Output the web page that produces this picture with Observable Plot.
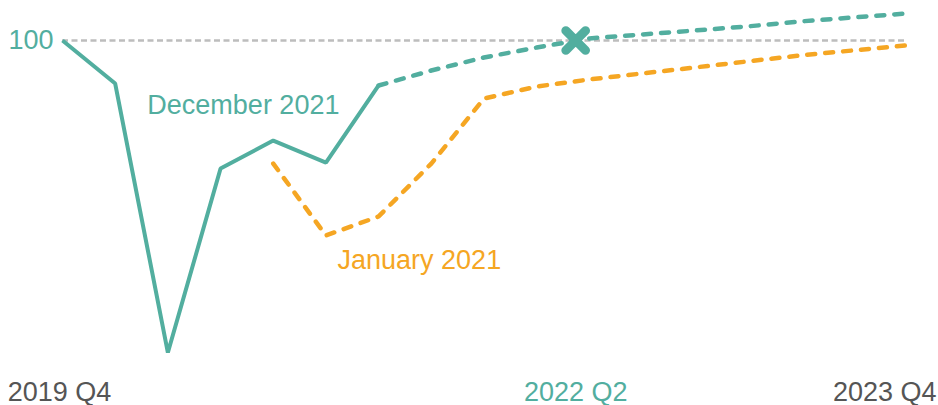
<!DOCTYPE html>
<html><head><meta charset="utf-8">
<script src="https://cdn.jsdelivr.net/npm/d3@7"></script>
<script src="https://cdn.jsdelivr.net/npm/@observablehq/plot@0.6"></script>
<style>body{margin:0;background:#fff}</style>
</head><body><div id="chart"></div>
<script>
// Quarters on the x axis (index 0 = 2019 Q4 ... 16 = 2023 Q4)
const quarters = ["2019 Q4","2020 Q1","2020 Q2","2020 Q3","2020 Q4","2021 Q1","2021 Q2","2021 Q3","2021 Q4",
                  "2022 Q1","2022 Q2","2022 Q3","2022 Q4","2023 Q1","2023 Q2","2023 Q3","2023 Q4"];
// December 2021: outturn (solid) from 2019 Q4, projection (dashed) from 2021 Q2
const decOutturn  = [100, 97.06, 78.70, 91.26, 93.17, 91.67, 96.93];
const decStart = 6;
const decForecast = [96.93, 97.95, 98.84, 99.52, 100.14, 100.41, 100.68, 100.96, 101.30, 101.57, 101.84];
// January 2021 projection (dashed) from 2020 Q4
const janStart = 4;
const janForecast = [91.60, 86.69, 87.99, 91.60, 96.04, 96.86, 97.34, 97.75, 98.16, 98.57, 98.98, 99.32, 99.66];
// Pre-pandemic level and the point where December 2021 regains it
const refLevel = 100;
const recovery = [{q: 9.74, v: 100, label: "2022 Q2"}];
// Series labels
const seriesLabels = [
  {name: "December 2021", q: 1.61, v: 95.60, color: "#52AE9F"},
  {name: "January 2021",  q: 5.22, v: 84.96, color: "#F5A623"}
];
const edgeTicks = [0, 16];

const green = "#52AE9F", orange = "#F5A623", grey = "#555555";
const toPts = (arr, start) => arr.map((v, i) => ({q: start + i, v}));
const decSolid = toPts(decOutturn, 0);
const decDash = toPts(decForecast, decStart);
const janDash = toPts(janForecast, janStart);
const font = "'Liberation Sans', Arial, Helvetica, sans-serif";

const chart = Plot.plot({
  width: 938, height: 405,
  marginLeft: 0, marginRight: 0, marginTop: 0, marginBottom: 0,
  style: {fontFamily: font, background: "#fff", overflow: "visible"},
  x: {domain: [0, 16], range: [62, 905], axis: null},
  y: {domain: [78, 102], range: [362.3, 10.7], axis: null},
  marks: [
    Plot.ruleY([refLevel], {x1: 0, x2: 16, stroke: "#bdbdbd", strokeWidth: 2.5, strokeDasharray: "6,3.5"}),
    Plot.line(janDash, {x: "q", y: "v", stroke: orange, strokeWidth: 4.5, strokeDasharray: "8,10", strokeLinecap: "round", strokeLinejoin: "round"}),
    Plot.line(decDash, {x: "q", y: "v", stroke: green, strokeWidth: 4.5, strokeDasharray: "8,10", strokeLinecap: "round", strokeLinejoin: "round"}),
    Plot.line(decSolid, {x: "q", y: "v", stroke: green, strokeWidth: 4, strokeLinejoin: "miter", strokeLinecap: "butt"}),
    Plot.dot(recovery, {x: "q", y: "v", symbol: "times", r: 9, stroke: green, strokeWidth: 9, strokeLinecap: "round"}),
    Plot.text([refLevel], {x: () => 0, y: d => d, text: d => String(d), textAnchor: "end", dx: -9, fill: green, fontSize: 27, lineAnchor: "middle"}),
    Plot.text(seriesLabels, {x: "q", y: "v", text: "name", fill: "color", textAnchor: "start", fontSize: 27, lineAnchor: "middle"}),
    Plot.text(edgeTicks.slice(0, 1), {x: d => d, text: d => quarters[d], frameAnchor: "bottom", lineAnchor: "middle", dy: -13.6, dx: -3, fill: grey, fontSize: 27, textAnchor: "middle"}),
    Plot.text(edgeTicks.slice(1), {x: d => d, text: d => quarters[d], frameAnchor: "bottom", lineAnchor: "middle", dy: -13.6, dx: 31, fill: grey, fontSize: 27, textAnchor: "end"}),
    Plot.text(recovery, {x: "q", text: "label", frameAnchor: "bottom", lineAnchor: "middle", dy: -13.6, fill: green, fontSize: 27, textAnchor: "middle"})
  ]
});
document.getElementById("chart").appendChild(chart);
</script>
</body></html>
